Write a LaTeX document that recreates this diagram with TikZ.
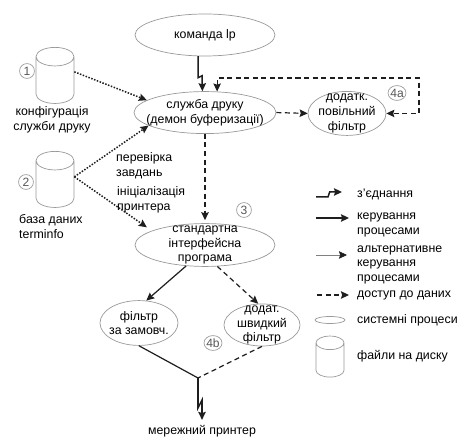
\documentclass[tikz,border=0pt]{standalone}
\usepackage{fontspec}
\setmainfont{Liberation Sans}
\usetikzlibrary{arrows.meta,shapes.geometric,positioning}
\definecolor{ink}{HTML}{1E1E1E}
\definecolor{rim}{HTML}{9A9A9A}
\definecolor{altln}{HTML}{808080}
\tikzset{
  % ---- nodes -----------------------------------------------------
  proc/.style     = {ellipse, draw=rim, line width=.7pt, fill=white, align=center,
                     inner xsep=-14pt, inner ysep=-12pt, font=\fontsize{12.3}{14.5}\selectfont},
  disk/.style     = {cylinder, shape border rotate=90, shape aspect=.5, draw=rim, anchor=shape center,
                     line width=.7pt, fill=white, inner sep=18.5pt},
  numtag/.style   = {ellipse, draw=rim, line width=.7pt, inner sep=-3pt, text=ink!75,
                     minimum width=5.2mm, minimum height=5.2mm,
                     font=\fontsize{12}{13}\selectfont},
  txt/.style      = {inner sep=0pt, align=left, text=black,
                     font=\fontsize{12.3}{14.5}\selectfont},
  % ---- connectors ------------------------------------------------
  linkln/.style   = {draw=ink, line width=1.5pt, -{Stealth[length=2.8mm,width=2.6mm,inset=.4mm]}},
  ctrlln/.style   = {draw=ink, line width=1.2pt, -{Stealth[length=2.8mm,width=2.6mm,inset=.4mm]}},
  dataln/.style   = {draw=ink, line width=1.2pt, dash pattern=on 5pt off 3.5pt,
                     -{Stealth[length=2.8mm,width=2.6mm,inset=.4mm]}},
  readln/.style   = {draw=ink, line width=1.5pt, dash pattern=on 1.5pt off 1.5pt,
                     -{Stealth[length=2.8mm,width=2.6mm,inset=.4mm]}},
  altctl/.style   = {draw=altln, line width=.7pt, -{Stealth[length=2.8mm,width=2.6mm,inset=.4mm,color=ink]}},
}
\begin{document}
\begin{tikzpicture}
\useasboundingbox (0,0) rectangle (16.24,15.47);
% processes
\node[proc, minimum width=4.90cm, minimum height=1.47cm] (lp) at (7.175, 14.245) {команда lp};
\node[proc, minimum width=4.97cm, minimum height=1.47cm] (spool) at (7.175, 11.53) {служба друку\\(демон буферизації)};
\node[proc, minimum width=2.73cm, minimum height=1.54cm] (slow) at (12.145, 11.50) {додатк.\\повільний\\фільтр};
\node[proc, minimum width=4.90cm, minimum height=1.50cm] (iface) at (7.175, 6.895) {стандартна\\інтерфейсна\\програма};
\node[proc, minimum width=2.73cm, minimum height=1.57cm] (deflt) at (4.865, 4.165) {фільтр\\за замовч.};
\node[proc, minimum width=2.66cm, minimum height=1.47cm] (fast) at (9.17, 4.095) {додат.\\швидкий\\фільтр};
% disks
\node[disk, minimum width=1.33cm, minimum height=1.85cm] (cfg) at (1.925, 12.83) {};
\node[disk, minimum width=1.33cm, minimum height=1.85cm] (tinfo) at (1.925, 9.19) {};
% numbers
\node[numtag] (n1) at (0.945, 12.985) {1};
\node[numtag] (n2) at (0.91, 9.10) {2};
\node[numtag] (n3) at (8.54, 8.12) {3};
\node[numtag, minimum width=6.3mm] (n4a) at (13.895, 12.215) {4a};
\node[numtag, minimum width=6.3mm] (n4b) at (7.455, 3.465) {4b};
% free texts
\node[txt, align=center] (cfgtxt) at (1.82, 11.27) {конфігурація\\служби друку};
\node[txt, anchor=west] (tinfotxt) at (0.665, 7.54) {база даних\\terminfo};
\node[txt, anchor=west] (chktxt) at (4.06, 9.66) {перевірка\\завдань};
\node[txt, anchor=west] (inittxt) at (4.095, 8.47) {ініціалізація\\принтера};
\node[txt] (printer) at (7.07, 0.385) {мережний принтер};
% connectors
\coordinate (fbk) at (14.665, 12.74);
\coordinate (join) at (6.93, 2.24);
\draw[linkln] (lp.252) -- ++(0,-.75) -- ++(.14,.07) -- (spool.97);
\draw[readln] ([yshift=13pt]cfg.east) -- (spool.168);
\draw[readln] ([yshift=12pt]tinfo.east) -- (spool.193);
\draw[readln, shorten >=6pt] ([yshift=12pt]tinfo.east) -- (iface.165);
\draw[dataln, shorten >=3pt] (spool.south) -- (iface.north);
\draw[dataln] (spool.east) -- (slow.west);
\draw[dataln, {Stealth[length=2.8mm,width=2.6mm,inset=.4mm]}-{Stealth[length=2.8mm,width=2.6mm,inset=.4mm]}] (spool.60) |- (fbk) |- (slow.east);
\draw[ctrlln] (iface.228) -- (deflt.72);
\draw[dataln] (iface.300) -- (fast.100);
\draw[draw=ink, line width=1.2pt] (deflt.south) -- (join);
\draw[draw=ink, line width=1.2pt, dash pattern=on 5pt off 3.5pt] (fast.south) -- (join);
\draw[linkln, shorten >=5pt] (join) -- ++(0,-1.05) -- ++(.14,.28) -- (printer.north);
% legend
\coordinate (kA) at (11.06, 8.575);
\coordinate (kB) at (11.97, 8.75);
\coordinate (kC) at (11.06, 7.84);
\coordinate (kD) at (12.215, 7.84);
\coordinate (kE) at (11.06, 6.545);
\coordinate (kF) at (12.145, 6.545);
\coordinate (kG) at (11.095, 5.145);
\coordinate (kH) at (12.215, 5.145);
\draw[linkln] (kA) -- ++(.42,0) -- ++(.06,.175) -- (kB);
\draw[linkln] (kC) -- (kD);
\draw[altctl] (kE) -- (kF);
\draw[dataln] (kG) -- (kH);
\node[proc, minimum width=1.05cm, minimum height=.245cm] (kproc) at (11.55, 4.27) {};
\node[disk, inner sep=13.5pt, minimum width=.98cm, minimum height=1.30cm] (kdisk) at (11.55, 2.99) {};
\node[txt, anchor=west] (t1) at (12.495, 8.68) {з'єднання};
\node[txt, anchor=west] (t2) at (12.495, 7.595) {керування\\процесами};
\node[txt, anchor=west] (t3) at (12.495, 6.21) {альтернативне\\керування\\процесами};
\node[txt, anchor=west] (t4) at (12.495, 5.145) {доступ до даних};
\node[txt, anchor=west] (t5) at (12.495, 4.27) {системні процеси};
\node[txt, anchor=west] (t6) at (12.495, 3.01) {файли на диску};
\end{tikzpicture}
\end{document}
